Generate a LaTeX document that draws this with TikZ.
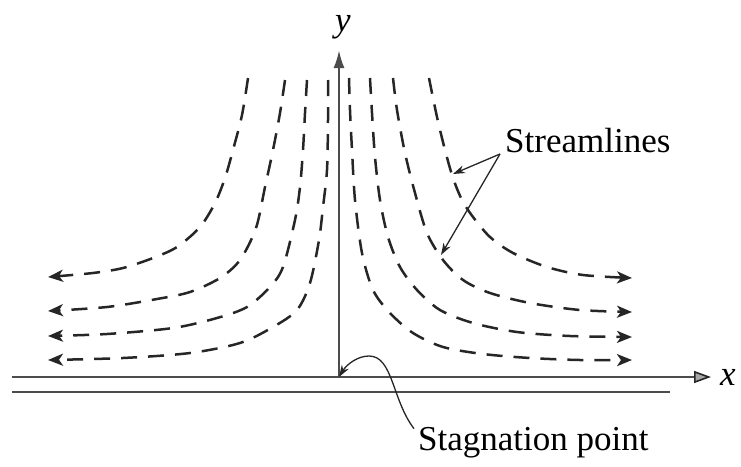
\documentclass[tikz,border=0pt]{standalone}
\usepackage{fontspec}
\setmainfont{Liberation Serif}
\usetikzlibrary{arrows.meta}
\begin{document}
\begin{tikzpicture}[x=1pt,y=-1pt,
  stream/.style={line width=2.5pt,dash pattern=on 16pt off 11pt,black!85,
    -{Stealth[length=15pt,width=12pt,inset=4pt]}},
  axis/.style={line width=2.4pt,black!70},
  pointer/.style={line width=1.3pt,black!85},
  lbl/.style={font=\fontsize{35}{40}\selectfont,inner sep=0pt}]
\useasboundingbox (0,0) rectangle (741,466);
% axes and wall
\coordinate (O) at (339,377);
\coordinate (yend) at (339,50);
\coordinate (xstart) at (12,377);
\coordinate (xend) at (711,377);
\coordinate (wl) at (12,392);
\coordinate (wr) at (670,392);
\draw[axis,-{Latex[length=18pt,width=11pt]}] (O) -- (yend);
\draw[axis,-{Triangle[length=17pt,width=12pt,fill=black!35,color=black!85,line width=1.6pt]}] (xstart) -- (xend);
\draw[axis] (wl) -- (wr);
\node[lbl,anchor=base] (ylab) at (343,31) {\itshape y};
\node[lbl,anchor=base] (xlab) at (728,385) {\itshape x};
% left streamlines
\draw[stream] plot[smooth] coordinates {(248,78) (242,115) (233,150) (225,178) (215,203) (200,227) (177,247) (153,258) (123,268) (93,273) (48,277)};
\draw[stream] plot[smooth] coordinates {(285,80) (280,113) (273,150) (265,187) (256,228) (240,260) (220,278) (190,292) (157,299) (107,307) (48,311)};
\draw[stream] plot[smooth] coordinates {(307,80) (305,113) (303,150) (300,187) (295,220) (283,267) (270,287) (247,307) (217,318) (173,328) (107,334) (48,336)};
\draw[stream] plot[smooth] coordinates {(328,80) (328,120) (327,170) (323,207) (319,240) (310,283) (297,310) (273,327) (240,343) (190,353) (123,358) (48,360)};
% right streamlines
\draw[stream] plot[smooth] coordinates {(349,78) (350,110) (352,150) (355,200) (362,253) (373,290) (390,313) (413,333) (443,347) (483,354) (530,358) (580,360) (632,360)};
\draw[stream] plot[smooth] coordinates {(370,78) (372,113) (375,157) (380,200) (388,237) (400,267) (417,290) (440,310) (473,323) (517,332) (570,336) (632,337)};
\draw[stream] plot[smooth] coordinates {(393,78) (397,110) (405,153) (415,193) (427,233) (443,260) (463,280) (490,293) (530,303) (580,310) (632,312)};
\draw[stream] plot[smooth] coordinates {(429,78) (437,117) (445,150) (453,178) (462,200) (473,217) (490,237) (513,253) (547,267) (583,275) (632,278)};
% labels and pointers
\node[lbl,anchor=base west] (streamlbl) at (505,152) {Streamlines};
\coordinate (sp) at (500,154);
\coordinate (t1) at (453,174);
\coordinate (t2) at (441,255);
\draw[pointer,-{Stealth[length=12pt,width=8pt]}] (sp) -- (t1);
\draw[pointer,-{Stealth[length=12pt,width=8pt]}] (sp) -- (t2);
\node[lbl,anchor=base west] (stag) at (418,450) {Stagnation point};
\draw[pointer,-{Stealth[length=12pt,width=8pt]}] (stag.north west) ++(-4,2) .. controls (392,400) and (393,356) .. (369,356) .. controls (358,356) and (347,364) .. (O);
\end{tikzpicture}
\end{document}
